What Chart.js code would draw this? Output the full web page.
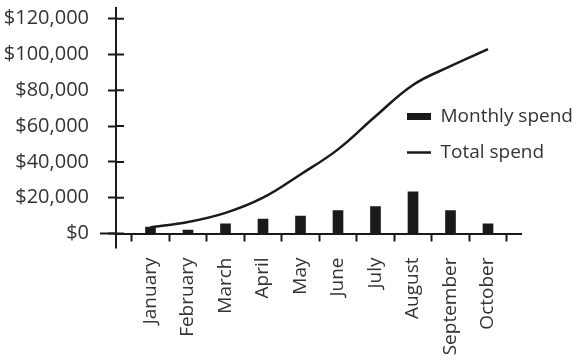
<!DOCTYPE html>
<html>
<head>
<meta charset="utf-8">
<script src="https://cdn.jsdelivr.net/npm/chart.js@4/dist/chart.umd.min.js"></script>
<style>
  html, body { margin: 0; padding: 0; background: #fff; }
  #wrap { width: 581px; height: 361px; }
</style>
</head>
<body>
<div id="wrap"><canvas id="chart"></canvas></div>
<script>
// values
const months = ['January', 'February', 'March', 'April', 'May', 'June', 'July', 'August', 'September', 'October'];
const monthlySpend = [3600, 1900, 5400, 8000, 9700, 12800, 15000, 23300, 12800, 5400];
const totalSpend = [3500, 6400, 11500, 20000, 33000, 47000, 65500, 83000, 93500, 103000];
const yTicks = [0, 20000, 40000, 60000, 80000, 100000, 120000];

const ink = '#1a1a1a';
const textColor = '#333333';
const font = 'Open Sans';

// the axes in the picture cross each other: ticks on both sides of the y axis,
// x axis sticking out left, y axis sticking out below
const axisCross = {
  id: 'axisCross',
  afterDraw(chart) {
    const { ctx, chartArea, scales: { y } } = chart;
    ctx.save();
    ctx.strokeStyle = ink;
    ctx.lineWidth = 2;
    ctx.beginPath();
    ctx.moveTo(chartArea.left - 16, chartArea.bottom);
    ctx.lineTo(chartArea.left, chartArea.bottom);
    ctx.moveTo(chartArea.left, chartArea.bottom);
    ctx.lineTo(chartArea.left, chartArea.bottom + 15);
    y.ticks.forEach((t) => {
      const py = y.getPixelForValue(t.value);
      ctx.moveTo(chartArea.left, py);
      ctx.lineTo(chartArea.left + 8, py);
    });
    ctx.stroke();
    ctx.restore();
  },
};

// legend sits inside the plot, to the right
const legendSpot = {
  id: 'legendSpot',
  afterLayout(chart) {
    const lg = chart.legend;
    const pad = lg.options.labels.padding;
    lg.left = 407 - pad;
    lg.top = 107 - pad;
    lg.right = chart.width;
    lg.bottom = 200;
    lg.width = lg.right - lg.left;
    lg.height = lg.bottom - lg.top;
  },
};

const config = {
  type: 'bar',
  data: {
    datasets: [
      {
        label: 'Monthly spend',
        data: monthlySpend.map((v, i) => ({ x: i, y: v })),
        backgroundColor: ink,
        borderWidth: 0,
        barThickness: 10,
        pointStyle: 'rect',
      },
      {
        type: 'line',
        label: 'Total spend',
        data: totalSpend.map((v, i) => ({ x: i, y: v })),
        borderColor: ink,
        backgroundColor: ink,
        borderWidth: 2.5,
        pointRadius: 0,
        tension: 0.4,
        pointStyle: 'line',
      },
    ],
  },
  options: {
    responsive: true,
    maintainAspectRatio: false,
    animation: false,
    layout: { padding: { top: 8, left: 0, right: 60, bottom: 0 } },
    plugins: {
      tooltip: { enabled: false },
      legend: {
        position: 'chartArea',
        align: 'start',
        labels: {
          usePointStyle: true,
          pointStyleWidth: 24,
          boxHeight: 7,
          padding: 17,
          color: textColor,
          font: { family: font, size: 19 },
        },
      },
    },
    scales: {
      x: {
        type: 'linear',
        offset: false,
        min: -0.92,
        max: 9.88,
        afterBuildTicks: (scale) => {
          scale.ticks = months.map((m, i) => ({ value: i }));
        },
        afterFit: (scale) => {
          scale.height = 127.5;
          scale.paddingLeft = 0;
          scale.paddingRight = 0;
        },
        grid: {
          offset: true,
          drawOnChartArea: false,
          tickLength: 8,
          tickWidth: 2,
          tickColor: ink,
        },
        border: { color: ink, width: 2 },
        ticks: {
          autoSkip: false,
          minRotation: 90,
          maxRotation: 90,
          padding: 16,
          color: textColor,
          font: { family: font, size: 19 },
          callback: (v) => months[v],
        },
      },
      y: {
        min: 0,
        max: 126000,
        afterBuildTicks: (scale) => {
          scale.ticks = yTicks.map((v) => ({ value: v }));
        },
        afterFit: (scale) => {
          scale.width = 116;
          scale.paddingTop = 0;
          scale.paddingBottom = 0;
        },
        grid: {
          drawOnChartArea: false,
          tickLength: 8,
          tickWidth: 2,
          tickColor: ink,
        },
        border: { color: ink, width: 2 },
        ticks: {
          padding: 19,
          color: textColor,
          font: { family: font, size: 20 },
          callback: (v) => '$' + v.toLocaleString('en-US'),
        },
      },
    },
  },
  plugins: [axisCross, legendSpot],
};

new Chart(document.getElementById('chart'), config);
</script>
</body>
</html>
